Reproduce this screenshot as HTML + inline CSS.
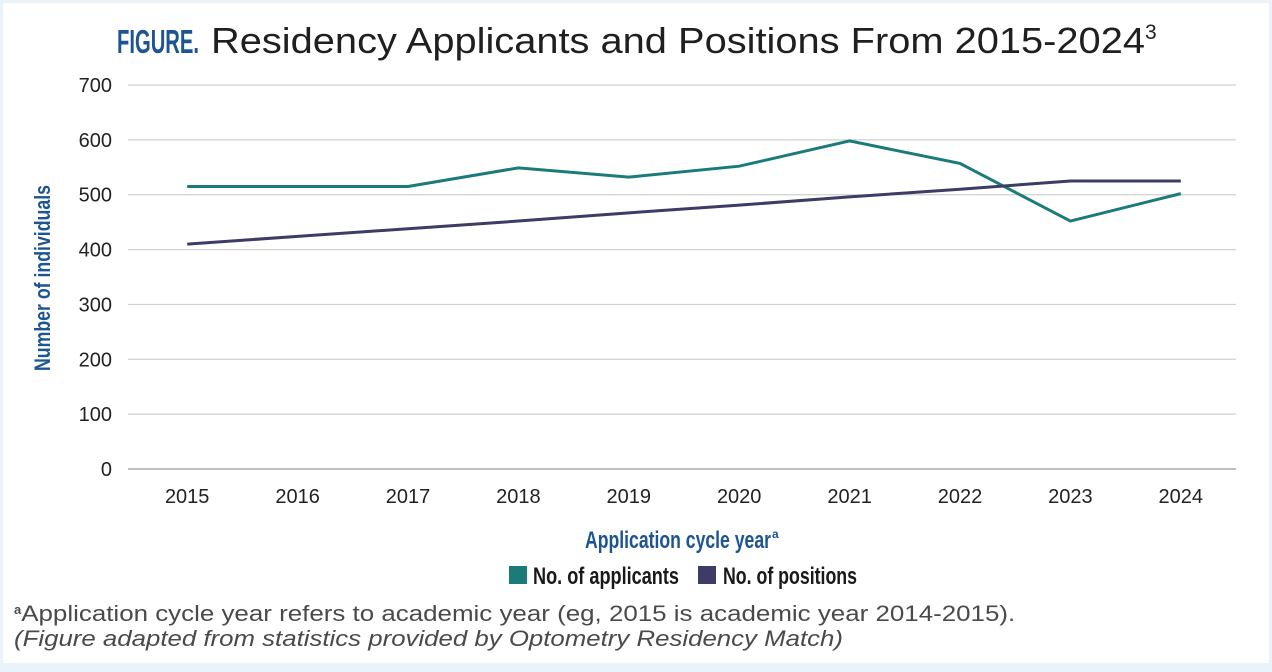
<!DOCTYPE html>
<html><head><meta charset="utf-8"><style>
body{margin:0;background:#e9f3fb;width:1272px;height:672px;overflow:hidden;font-family:"Liberation Sans",sans-serif}
#card{position:absolute;left:3px;top:3px;width:1266px;height:660px;background:#fff}
</style></head><body>
<div id="card"></div>
<svg width="1272" height="672" style="position:absolute;left:0;top:0" id="chart">
<text x="117" y="53" font-size="36" fill="#1f1f1f"><tspan fill="#1d5492" font-weight="bold" font-size="33" textLength="82" lengthAdjust="spacingAndGlyphs">FIGURE.</tspan><tspan x="211" textLength="934" lengthAdjust="spacingAndGlyphs">Residency Applicants and Positions From 2015-2024</tspan><tspan font-size="21" dy="-14">3</tspan></text>
<g id="grid"></g><g id="xt"></g><g id="series"></g>
<text transform="translate(50,278) rotate(-90)" text-anchor="middle" font-size="22" font-weight="bold" fill="#1d5492" textLength="186" lengthAdjust="spacingAndGlyphs">Number of individuals</text>
<text x="585" y="548" font-size="24" font-weight="bold" fill="#1d5492" textLength="186" lengthAdjust="spacingAndGlyphs">Application cycle year</text>
<text x="772" y="538" font-size="12" font-weight="bold" fill="#1d5492">a</text>
<rect x="509" y="566" width="18" height="18" fill="#1b7b7b"/>
<text x="533" y="584" font-size="24" font-weight="bold" fill="#1a1a1a" textLength="146" lengthAdjust="spacingAndGlyphs">No. of applicants</text>
<rect x="698" y="566" width="18" height="18" fill="#3c3c66"/>
<text x="723" y="584" font-size="24" font-weight="bold" fill="#1a1a1a" textLength="134" lengthAdjust="spacingAndGlyphs">No. of positions</text>
<text x="14" y="621" font-size="22" fill="#4a4a4a"><tspan font-size="13" dy="-7" font-weight="bold">a</tspan><tspan dy="7" textLength="994" lengthAdjust="spacingAndGlyphs">Application cycle year refers to academic year (eg, 2015 is academic year 2014-2015).</tspan></text>
<text x="14" y="646" font-size="22" font-style="italic" fill="#4a4a4a" textLength="829" lengthAdjust="spacingAndGlyphs">(Figure adapted from statistics provided by Optometry Residency Match)</text>
</svg>
<script>
const years=["2015","2016","2017","2018","2019","2020","2021","2022","2023","2024"];
const applicants=[515,515,515,549,532,552,598,557,452,502];
const positions=[410,424,438,452,467,481,496,510,525,525];
const yTicks=[0,100,200,300,400,500,600,700];
const NS="http://www.w3.org/2000/svg";
const L=132,R=1236,Y0=469,Y1=85;
const y=v=>Y0-(v/700)*(Y0-Y1);
const bw=(R-L)/years.length;
const x=i=>L+bw*(i+0.5);
function mk(t,a,p){const e=document.createElementNS(NS,t);for(const k in a)e.setAttribute(k,a[k]);p.appendChild(e);return e;}
const g=document.getElementById('grid');
yTicks.forEach(v=>{
 const l=mk('line',{x1:L-4,x2:R,y1:y(v),y2:y(v),stroke:v===0?'#999':'#d0d0d0','stroke-width':1.2},g);
 
 
 const t=mk('text',{x:112,y:y(v)+7,'text-anchor':'end','font-size':20,fill:'#222'},g);t.textContent=v;
 
 
});
const xt=document.getElementById('xt');
years.forEach((yr,i)=>{
 const t=mk('text',{x:x(i),y:503,'text-anchor':'middle','font-size':20,fill:'#222'},xt);t.textContent=yr;
 
 
});
const s=document.getElementById('series');
[[applicants,'#1b7b7b','applicants-line'],[positions,'#3c3c66','positions-line']].forEach(([d,c,n])=>{
 const p=mk('polyline',{points:d.map((v,i)=>x(i)+','+y(v)).join(' '),fill:'none',stroke:c,'stroke-width':3},s);
 
 
});
</script>
</body></html>
